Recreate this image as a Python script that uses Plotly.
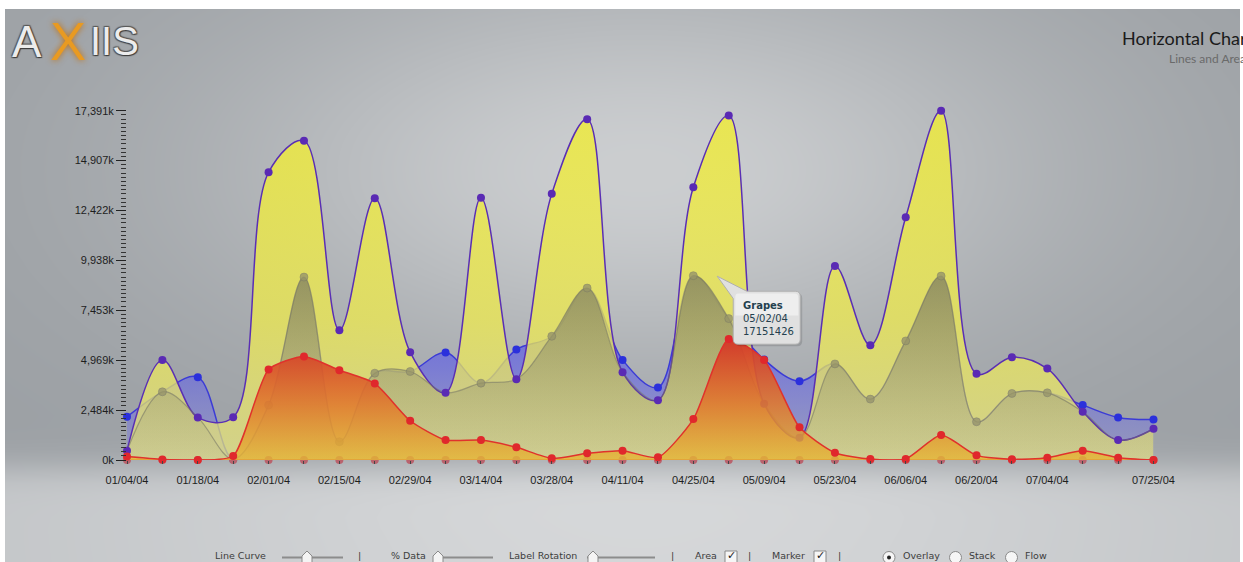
import numpy as np
import plotly.graph_objects as go

# ---------------------------------------------------------------- data
WEEKS = [
    "2004-01-04", "2004-01-11", "2004-01-18", "2004-01-25", "2004-02-01",
    "2004-02-08", "2004-02-15", "2004-02-22", "2004-02-29", "2004-03-07",
    "2004-03-14", "2004-03-21", "2004-03-28", "2004-04-04", "2004-04-11",
    "2004-04-18", "2004-04-25", "2004-05-02", "2004-05-09", "2004-05-16",
    "2004-05-23", "2004-05-30", "2004-06-06", "2004-06-13", "2004-06-20",
    "2004-06-27", "2004-07-04", "2004-07-11", "2004-07-18", "2004-07-25",
]

GRAPES = [
    462000, 4975000, 2120000, 2130000, 14326000, 15900000, 6460000, 13035000,
    5367000, 3346000, 13052000, 4025000, 13251000, 16961000, 4373000, 2981000,
    13582000, 17151426, 2797000, 1108000, 9656000, 5714000, 12091000, 17391426,
    4290000, 5118000, 4555000, 2402000, 994000, 1557000,
]
APPLES = [
    2153000, 3395000, 4124000, 50000, 2733000, 9109000, 911000, 4323000,
    4406000, 5352000, 3826000, 5500000, 6162000, 8563000, 4984000, 3612000,
    9177000, 7040000, 5000000, 3925000, 4785000, 3031000, 5930000, 9159000,
    1905000, 3313000, 3346000, 2733000, 2120000, 2021000,
]
CHERRIES = [
    170000, 30000, 0, 199000, 4507000, 5153000, 4472000, 3810000,
    1954000, 994000, 994000, 630000, 83000, 331000, 464000, 133000,
    2037000, 6028000, 4984000, 1625000, 364000, 50000, 50000, 1242000,
    232000, 33000, 116000, 464000, 116000, 0,
]
PLUMS = [0, 0, 0, 0, 0, 0, 0, 0, 0, 0, 0, 0, 0, 0, 0,
         0, 0, 0, 0, 0, 0, 0, 0, 0, 0, 0, 0, 0, 0, 0]

X_TICK_DATES = ["2004-01-04", "2004-01-18", "2004-02-01", "2004-02-15",
                "2004-02-29", "2004-03-14", "2004-03-28", "2004-04-11",
                "2004-04-25", "2004-05-09", "2004-05-23", "2004-06-06",
                "2004-06-20", "2004-07-04", "2004-07-25"]
X_TICK_LABELS = ["01/04/04", "01/18/04", "02/01/04", "02/15/04", "02/29/04",
                 "03/14/04", "03/28/04", "04/11/04", "04/25/04", "05/09/04",
                 "05/23/04", "06/06/04", "06/20/04", "07/04/04", "07/25/04"]
Y_TICK_LABELS = ["0k", "2,484k", "4,969k", "7,453k", "9,938k",
                 "12,422k", "14,907k", "17,391k"]

TIP_INDEX = 17  # highlighted Grapes point

# ---------------------------------------------------------------- geometry
W, H = 1243, 562


def px(x):
    return x / W


def py(y):
    return 1 - y / H


Y_MAX = max(max(GRAPES), max(APPLES), max(CHERRIES))
Y_TICKS = [Y_MAX * i / (len(Y_TICK_LABELS) - 1) for i in range(len(Y_TICK_LABELS))]

PLOT_X = [px(127), px(1153.5)]
PLOT_Y = [py(460), py(110.7)]

fig = go.Figure()

# ---------------------------------------------------------------- backdrop
gx = np.linspace(5, 1240, 70)
gy = np.linspace(9, 562, 50)
GX, GY = np.meshgrid(gx, gy)
glow = np.exp(-((GX - 640) / 430) ** 2 - ((GY - 170) / 200) ** 2)
floor = 1 / (1 + np.exp(-(GY - 468) / 9))
side = np.exp(-((GX - 640) / 520) ** 2)
shade = 158 + 46 * glow + floor * (36 + 18 * side)

fig.add_trace(go.Heatmap(
    x=gx, y=gy, z=shade, zmin=140, zmax=232, zsmooth="best",
    colorscale=[[0, "rgb(137,142,147)"], [1, "rgb(232,233,234)"]],
    showscale=False, hoverinfo="skip", xaxis="x", yaxis="y",
))

common = dict(x=WEEKS, xaxis="x2", yaxis="y2", cliponaxis=False, hoverinfo="skip")

# blue series (sits under the yellow area)
fig.add_trace(go.Scatter(
    y=APPLES, mode="lines+markers", fill="tozeroy",
    fillgradient=dict(type="vertical", colorscale=[
        [0, "rgba(125,125,235,0.30)"], [0.5, "rgba(88,88,236,0.58)"],
        [1, "rgba(60,60,230,0.78)"]]),
    line=dict(color="#3b3bd6", width=1.5, shape="spline", smoothing=1),
    marker=dict(color="#2b30dc", size=8), **common,
))

# yellow Grapes area
fig.add_trace(go.Scatter(
    y=GRAPES, mode="lines", fill="tozeroy",
    fillgradient=dict(type="vertical", colorscale=[
        [0, "rgba(230,227,128,0.72)"], [0.4, "rgba(236,232,80,0.77)"],
        [1, "rgba(240,236,55,0.82)"]]),
    line=dict(color="#5a2fb4", width=1.5, shape="spline", smoothing=1),
    **common,
))

# the blue series as seen through the yellow area
hidden = np.minimum(np.array(APPLES), np.array(GRAPES))
hidden_size = [8 if a < g else 0 for a, g in zip(APPLES, GRAPES)]
fig.add_trace(go.Scatter(
    y=hidden, mode="lines+markers", fill="tozeroy",
    fillgradient=dict(type="vertical", colorscale=[
        [0, "rgba(120,120,110,0.03)"], [0.5, "rgba(105,105,98,0.27)"],
        [1, "rgba(95,95,88,0.50)"]]),
    line=dict(color="rgba(115,115,100,0.55)", width=1.2, shape="spline", smoothing=1),
    marker=dict(color="#9a9768", size=hidden_size), **common,
))

# Grapes markers
fig.add_trace(go.Scatter(
    y=GRAPES, mode="markers", marker=dict(color="#5a2ab4", size=8), **common,
))

# baseline series
fig.add_trace(go.Scatter(
    y=PLUMS, mode="lines+markers",
    line=dict(color="#dc3a3a", width=1.5),
    marker=dict(color="#b9636d", size=8), **common,
))

# red/orange series
fig.add_trace(go.Scatter(
    y=CHERRIES, mode="lines+markers", fill="tozeroy",
    fillgradient=dict(type="vertical", colorscale=[
        [0, "rgba(230,182,52,0.80)"], [0.45, "rgba(225,122,45,0.88)"],
        [1, "rgba(212,52,40,0.95)"]]),
    line=dict(color="#e0322c", width=1.5, shape="spline", smoothing=0.6),
    marker=dict(color="#e0282c", size=8), **common,
))

# ---------------------------------------------------------------- shapes
shapes = []
for lo, hi in zip(Y_TICKS[0::2], Y_TICKS[1::2]):
    shapes.append(dict(type="rect", xref="x2 domain", yref="y2", x0=0, x1=1,
                       y0=lo, y1=hi, layer="below", line=dict(width=0),
                       fillcolor="rgba(255,255,255,0.14)"))


def bubble(dx=0.0, dy=0.0):
    pts = [(-11.5, -160.7), (18, -175.7), (66.5, -175.7), ("Q", 71.5, -175.7, 71.5, -180.7),
           (71.5, -223.7), ("Q", 71.5, -228.7, 66.5, -228.7), (9.5, -228.7),
           ("Q", 4.5, -228.7, 4.5, -223.7), (4.5, -183)]
    out = "M %.1f,%.1f" % (pts[0][0] + dx, pts[0][1] + dy)
    for p in pts[1:]:
        if p[0] == "Q":
            out += " Q %.1f,%.1f %.1f,%.1f" % (p[1] + dx, p[2] + dy, p[3] + dx, p[4] + dy)
        else:
            out += " L %.1f,%.1f" % (p[0] + dx, p[1] + dy)
    return out + " Z"


tip_anchor = dict(xref="x2", yref="y2", xsizemode="pixel", ysizemode="pixel",
                  xanchor=WEEKS[TIP_INDEX], yanchor=GRAPES[TIP_INDEX], layer="above")
shapes.append(dict(type="path", path=bubble(2, -2), fillcolor="rgba(0,0,0,0.13)",
                   line=dict(width=0), **tip_anchor))
shapes.append(dict(type="path", path=bubble(), fillcolor="#e0e0e0",
                   line=dict(color="#b0b0b0", width=1), **tip_anchor))
# softer upper half of the bubble
shapes.append(dict(type="path",
                   path="M 7,-178 L 66,-178 Q 69.5,-178 69.5,-182 L 69.5,-200 L 6.5,-200 L 6.5,-182 Q 6.5,-178 9.5,-178 Z",
                   fillcolor="rgba(250,250,250,0.55)", line=dict(width=0), **tip_anchor))

# bottom control strip
for x0, x1, thumb in [(282, 343, 307), (433, 493, 438), (587, 655, 593)]:
    shapes.append(dict(type="line", xref="paper", yref="paper", x0=px(x0), x1=px(x1),
                       y0=py(557.5), y1=py(557.5), line=dict(color="#8c8c8c", width=2)))
    shapes.append(dict(type="path", xref="paper", yref="paper",
                       path="M %f,%f L %f,%f L %f,%f L %f,%f L %f,%f Z" % (
                           px(thumb - 5), py(563), px(thumb - 5), py(556), px(thumb), py(551),
                           px(thumb + 5), py(556), px(thumb + 5), py(563)),
                       fillcolor="#f4f4f4", line=dict(color="#8a8a8a", width=1)))
for cx in (731, 820):
    shapes.append(dict(type="rect", xref="paper", yref="paper", x0=px(cx - 6), x1=px(cx + 6),
                       y0=py(563), y1=py(551), fillcolor="#f6f6f6",
                       line=dict(color="#8a8a8a", width=1)))
for i, cx in enumerate((889, 955.5, 1011.5)):
    shapes.append(dict(type="circle", xref="paper", yref="paper", x0=px(cx - 6), x1=px(cx + 6),
                       y0=py(563.5), y1=py(551.5), fillcolor="#f6f6f6",
                       line=dict(color="#8a8a8a", width=1)))
    if i == 0:
        shapes.append(dict(type="circle", xref="paper", yref="paper", x0=px(cx - 2), x1=px(cx + 2),
                           y0=py(559.5), y1=py(555.5), fillcolor="#222",
                           line=dict(width=0)))

# ---------------------------------------------------------------- text
ann = []
tip_date = WEEKS[TIP_INDEX]
tip_label = "%s/%s/%s" % (tip_date[5:7], tip_date[8:10], tip_date[2:4])
ann.append(dict(xref="x2", yref="y2", x=WEEKS[TIP_INDEX], y=GRAPES[TIP_INDEX],
                xanchor="left", yanchor="top", xshift=12, yshift=-182, showarrow=False,
                align="left",
                text="<b>Grapes</b><br>%s<br>%d" % (tip_label, GRAPES[TIP_INDEX]),
                font=dict(family="DejaVu Sans", size=10, color="#24404e")))

ann.append(dict(xref="paper", yref="paper", x=px(1120), y=py(38), xanchor="left",
                yanchor="middle", showarrow=False, text="Horizontal Chart",
                font=dict(family="Lato", size=18, color="#1a1a1a")))
ann.append(dict(xref="paper", yref="paper", x=px(1167), y=py(58), xanchor="left",
                yanchor="middle", showarrow=False, text="Lines and Area",
                font=dict(family="Lato", size=12, color="#6a6a6a")))

logo_shadow = "1px 1px 1px #3c3c3c, -1px -1px 1px #5a5a5a, 1px -1px 1px #5a5a5a, -1px 1px 1px #5a5a5a"
for ch, cx, size in [("A", 27, 44), ("IIS", 114, 40)]:
    ann.append(dict(xref="paper", yref="paper", x=px(cx), y=py(41), xanchor="center",
                    yanchor="middle", showarrow=False, text=ch,
                    font=dict(family="Liberation Sans", size=size, color="#ececec",
                              shadow=logo_shadow)))
ann.append(dict(xref="paper", yref="paper", x=px(68), y=py(41), xanchor="center",
                yanchor="middle", showarrow=False, text="X",
                font=dict(family="Liberation Sans", size=54, color="#e89a22",
                          shadow="0px 0px 6px #c07010")))

ctrl_font = dict(family="DejaVu Sans", size=9.5, color="#3c3c3c")
for txt, x in [("Line Curve", 213), ("|", 356), ("% Data", 389), ("Label Rotation", 507),
               ("|", 669), ("Area", 693), ("|", 746), ("Marker", 770), ("|", 836),
               ("Overlay", 901), ("Stack", 967), ("Flow", 1023)]:
    ann.append(dict(xref="paper", yref="paper", x=px(x), y=py(555.5), xanchor="left",
                    yanchor="middle", showarrow=False, text=txt, font=ctrl_font))
for cx in (731, 820):
    ann.append(dict(xref="paper", yref="paper", x=px(cx), y=py(555.5), xanchor="center",
                    yanchor="middle", showarrow=False, text="✓",
                    font=dict(family="DejaVu Sans", size=11, color="#1a1a1a")))

# ---------------------------------------------------------------- layout
fig.update_layout(
    width=W, height=H, margin=dict(l=0, r=0, t=0, b=0, autoexpand=False),
    paper_bgcolor="white", plot_bgcolor="rgba(0,0,0,0)",
    showlegend=False, hovermode=False,
    font=dict(family="Liberation Sans", size=11, color="#1e1e1e"),
    xaxis=dict(domain=[px(5), px(1240)], range=[5, 1240], visible=False, fixedrange=True),
    yaxis=dict(domain=[0, py(9)], range=[562, 9], visible=False, fixedrange=True),
    xaxis2=dict(domain=PLOT_X, anchor="y2", type="date", range=[WEEKS[0], WEEKS[-1]],
                tickmode="array", tickvals=X_TICK_DATES, ticktext=X_TICK_LABELS,
                showgrid=False, zeroline=False, showline=False,
                ticks="outside", ticklen=3, tickcolor="#444", tickwidth=1,
                ticklabelstandoff=7,
                minor=dict(ticks="outside", ticklen=3, tickcolor="#444",
                           tick0=WEEKS[0], dtick=7 * 86400000),
                tickfont=dict(size=11, color="#1e1e1e")),
    yaxis2=dict(domain=PLOT_Y, anchor="x2", range=[0, Y_MAX],
                tickmode="array", tickvals=Y_TICKS, ticktext=Y_TICK_LABELS,
                showgrid=False, zeroline=False, showline=False,
                ticks="outside", ticklen=10, tickcolor="#222", tickwidth=1,
                minor=dict(ticks="outside", ticklen=5, tickcolor="#333", tickwidth=1,
                           tick0=0, dtick=Y_MAX / 7 / 12),
                tickfont=dict(size=11, color="#1e1e1e")),
    shapes=shapes, annotations=ann,
)

fig.write_html("out.html")
